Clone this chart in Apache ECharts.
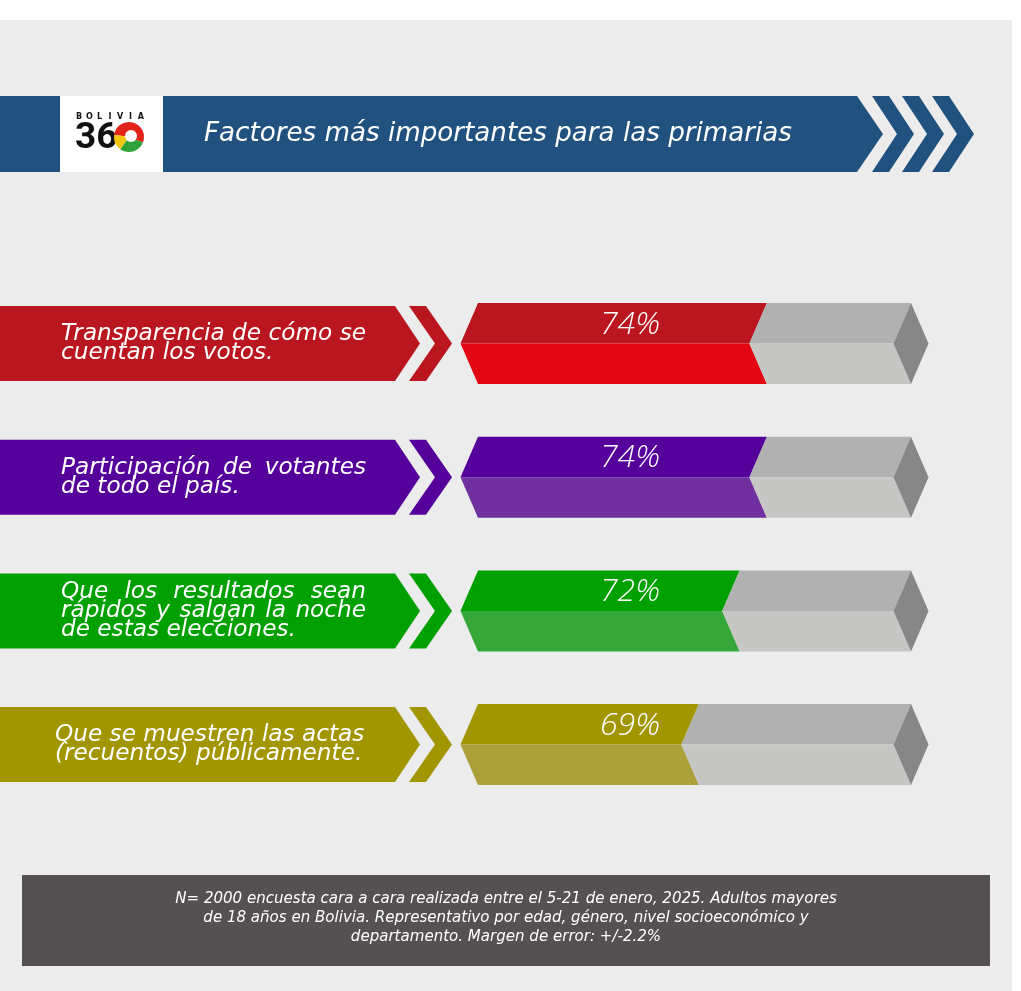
<!DOCTYPE html>
<html>
<head>
<meta charset="utf-8">
<script src="https://cdn.jsdelivr.net/npm/echarts@6/dist/echarts.min.js"></script>
<style>
  html, body { margin: 0; padding: 0; background: #ffffff; }
  #chart { width: 1021px; height: 991px; }
</style>
</head>
<body>
<div id="chart"></div>
<script>
// ---------- DATA ----------
const title = 'Factores más importantes para las primarias';
const categories = [
  'Transparencia de cómo se\ncuentan los votos.',
  'Participación de votantes\nde todo el país.',
  'Que los resultados sean\nrápidos y salgan la noche\nde estas elecciones.',
  'Que se muestren las actas\n(recuentos) públicamente.'
];
const values = [74, 74, 72, 69];
const valueLabels = ['74%', '74%', '72%', '69%'];
const footnoteLines = [
  'N= 2000 encuesta cara a cara realizada entre el 5-21 de enero, 2025. Adultos mayores',
  'de 18 años en Bolivia. Representativo por edad, género, nivel socioeconómico y',
  'departamento. Margen de error: +/-2.2%'
];

// ---------- STYLE ----------
const topColors = ['#b9161f', '#55009a', '#00a000', '#a19600'];
const bottomColors = ['#e30613', '#7030a0', '#35a638', '#aba03a'];
const justifyLines = [[true, false], [true, false], [true, true, false], [true, true]];
const textStartX = [61, 61, 61, 55];
const GRAY_TOP = '#b1b1b1', GRAY_BOTTOM = '#c6c6c4', GRAY_END = '#878787';
const AXIS_MIN = 52.75, AXIS_MAX = 84.6;
const FAMILY = '"DejaVu Sans", "Open Sans", sans-serif';
const PCT_FAMILY = '"Open Sans", "DejaVu Sans", sans-serif';

const measureCtx = document.createElement('canvas').getContext('2d');
function fitSize(text, prefix, family, target) {
  measureCtx.font = prefix + ' 100px ' + family;
  return 100 * target / measureCtx.measureText(text).width;
}
const LABEL_SIZE = Math.min(24, fitSize('Transparencia de cómo se', 'italic 400', FAMILY, 305));
const LABEL_FONT = 'italic 400 ' + LABEL_SIZE.toFixed(2) + 'px ' + FAMILY;
const TITLE_SIZE = fitSize(title, 'italic 400', FAMILY, 588);
const FOOT_SIZE = fitSize(footnoteLines[0], 'italic 400', FAMILY, 662);
const PCT_SIZE = fitSize('74%', 'italic 300', PCT_FAMILY, 60);
const TEXT_WIDTH = 305;
function tw(s) { measureCtx.font = LABEL_FONT; return measureCtx.measureText(s).width; }

function labelTextElements(i, yC) {
  const lines = categories[i].split('\n');
  const n = lines.length;
  const lh = 18.7;
  const els = [];
  lines.forEach((line, k) => {
    const y = yC + (k - (n - 1) / 2) * lh;
    const x = textStartX[i];
    const words = line.split(' ');
    const natural = tw(line);
    if (justifyLines[i][k] && words.length > 1 && natural < TEXT_WIDTH) {
      const wsum = words.reduce((a, w) => a + tw(w), 0);
      const gap = (TEXT_WIDTH - wsum) / (words.length - 1);
      let cx = x;
      words.forEach(w => {
        els.push({ type: 'text', style: { text: w, x: cx, y: y, fill: '#ffffff', font: LABEL_FONT, align: 'left', verticalAlign: 'middle' } });
        cx += tw(w) + gap;
      });
    } else {
      els.push({ type: 'text', style: { text: line, x: x, y: y, fill: '#ffffff', font: LABEL_FONT, align: 'left', verticalAlign: 'middle' } });
    }
  });
  return els;
}

function renderItem(params, api) {
  const i = api.value(1);
  const v = api.value(0);
  const c = api.coord([v, i]);
  const xv = c[0], yC = c[1];
  const x0 = api.coord([AXIS_MIN, i])[0];
  const x1 = api.coord([AXIS_MAX, i])[0];
  const hb = 40.5, d = 17.5;
  const yT = yC - hb, yB = yC + hb;
  const hl = 37.5;
  const lT = yC - hl, lB = yC + hl;
  const poly = (pts, fill) => ({ type: 'polygon', shape: { points: pts }, style: { fill: fill } });
  const children = [
    poly([[0, lT], [395, lT], [420, yC], [395, lB], [0, lB]], topColors[i]),
    poly([[409, lT], [426, lT], [452, yC], [426, lB], [409, lB], [435, yC]], topColors[i]),
    poly([[x0, yT], [xv, yT], [xv - d, yC], [x0 - d, yC]], topColors[i]),
    poly([[x0 - d, yC], [xv - d, yC], [xv, yB], [x0, yB]], bottomColors[i]),
    poly([[xv, yT], [x1, yT], [x1 - d, yC], [xv - d, yC]], GRAY_TOP),
    poly([[xv - d, yC], [x1 - d, yC], [x1, yB], [xv, yB]], GRAY_BOTTOM),
    poly([[x1, yT], [x1 + d, yC], [x1, yB], [x1 - d, yC]], GRAY_END),
    { type: 'text', style: { text: valueLabels[i], x: x0 + 152, y: yC - 19, fill: '#ffffff',
      font: 'italic 300 ' + PCT_SIZE.toFixed(2) + 'px ' + PCT_FAMILY, align: 'center', verticalAlign: 'middle' } }
  ].concat(labelTextElements(i, yC));
  return { type: 'group', children: children };
}

const graphics = [
  { type: 'rect', shape: { x: 0, y: 20, width: 1012, height: 971 }, style: { fill: '#ececec' }, z: -10 },
  { type: 'polygon', shape: { points: [[0, 96], [857, 96], [883, 134], [857, 172], [0, 172]] }, style: { fill: '#21527f' } },
  { type: 'polygon', shape: { points: [[872, 96], [889, 96], [914, 134], [889, 172], [872, 172], [897, 134]] }, style: { fill: '#21527f' } },
  { type: 'polygon', shape: { points: [[902, 96], [919, 96], [944, 134], [919, 172], [902, 172], [927, 134]] }, style: { fill: '#21527f' } },
  { type: 'polygon', shape: { points: [[932, 96], [949, 96], [974, 134], [949, 172], [932, 172], [957, 134]] }, style: { fill: '#21527f' } },
  { type: 'rect', shape: { x: 60, y: 96, width: 103, height: 76 }, style: { fill: '#ffffff' } },
  { type: 'text', style: { text: title, x: 204, y: 134, fill: '#ffffff', font: 'italic 400 ' + TITLE_SIZE.toFixed(2) + 'px ' + FAMILY, align: 'left', verticalAlign: 'middle' } },
  { type: 'text', style: { text: '36', x: 75, y: 139, fill: '#111111', font: 'bold 37px Roboto, ' + FAMILY, align: 'left', verticalAlign: 'middle' } },
  { type: 'sector', shape: { cx: 129, cy: 137, r: 15, r0: 0, startAngle: -Math.PI * 0.95, endAngle: Math.PI * 0.12 }, style: { fill: '#e3241b' } },
  { type: 'sector', shape: { cx: 129, cy: 137, r: 15, r0: 0, startAngle: Math.PI * 0.12, endAngle: Math.PI * 0.7 }, style: { fill: '#2fa33a' } },
  { type: 'sector', shape: { cx: 129, cy: 137, r: 15, r0: 0, startAngle: Math.PI * 0.7, endAngle: Math.PI * 1.05 }, style: { fill: '#f2c511' } },
  { type: 'circle', shape: { cx: 131, cy: 136, r: 6 }, style: { fill: '#ffffff' } },
  { type: 'rect', shape: { x: 22, y: 875, width: 968, height: 91 }, style: { fill: '#555152' } }
];
'BOLIVIA'.split('').forEach((ch, k) => {
  graphics.push({ type: 'text', style: { text: ch, x: 79 + k * 10.3, y: 117, fill: '#111111', font: 'bold 8px ' + FAMILY, align: 'center', verticalAlign: 'middle' } });
});
footnoteLines.forEach((line, k) => {
  graphics.push({ type: 'text', style: { text: line, x: 506, y: 899 + k * 19, fill: '#ffffff', font: 'italic 400 ' + FOOT_SIZE.toFixed(2) + 'px ' + FAMILY, align: 'center', verticalAlign: 'middle' } });
});

const chart = echarts.init(document.getElementById('chart'), null, { renderer: 'canvas' });
chart.setOption({
  animation: false,
  backgroundColor: '#ffffff',
  graphic: graphics,
  grid: { left: 478, right: 110, top: 276.7, height: 534.7 },
  xAxis: { type: 'value', min: AXIS_MIN, max: AXIS_MAX, show: false },
  yAxis: { type: 'category', data: categories, inverse: true, show: false },
  series: [{
    type: 'custom',
    renderItem: renderItem,
    encode: { x: 0, y: 1 },
    data: values.map((v, i) => [v, i]),
    z: 5
  }]
});
</script>
</body>
</html>
